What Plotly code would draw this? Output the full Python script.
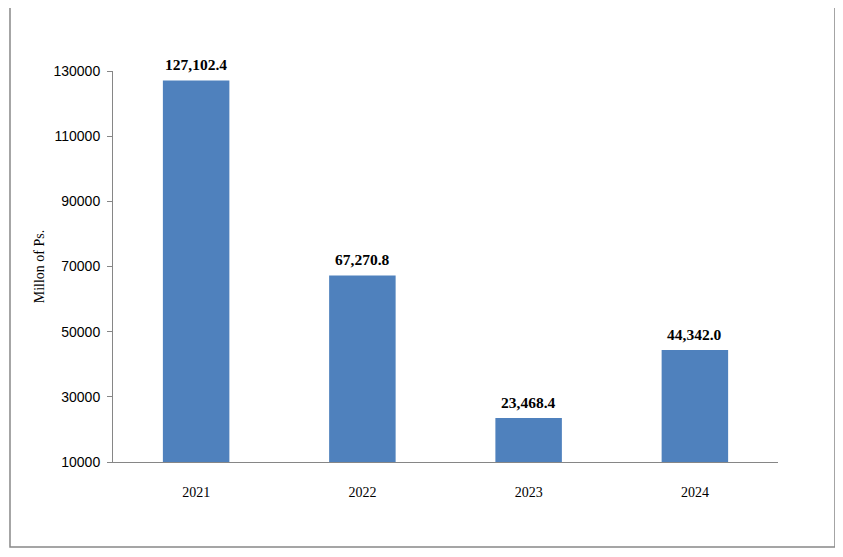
import plotly.graph_objects as go

years = ["2021", "2022", "2023", "2024"]
values = [127102.4, 67270.8, 23468.4, 44342.0]
y_ticks = [10000, 30000, 50000, 70000, 90000, 110000, 130000]

labels = [f"{v:,.1f}" for v in values]

fig = go.Figure(go.Bar(
    x=years, y=values,
    marker=dict(color="#4F81BD", line=dict(width=0)),
    width=0.4,
))

# category axis: annotation x given as category index
for i, (v, lab) in enumerate(zip(values, labels)):
    fig.add_annotation(x=i, y=v, text=lab, showarrow=False,
                       yanchor="bottom", yshift=5,
                       font=dict(family="Liberation Serif", size=15.5, color="black", weight="bold"))

fig.update_layout(
    width=843, height=557,
    margin=dict(l=105, r=73, t=63, b=103),
    plot_bgcolor="white", paper_bgcolor="white",
    showlegend=False,
    xaxis=dict(
        type="category",
        showline=True, linecolor="#868686", linewidth=1,
        ticks="", showgrid=False, ticklabelstandoff=17,
        tickfont=dict(family="Liberation Serif", size=14, color="black"),
    ),
    yaxis=dict(
        range=[10000, 130000], tickvals=y_ticks,
        ticktext=[str(v) for v in y_ticks],
        showline=True, linecolor="#868686", linewidth=1,
        ticks="outside", ticklen=5, tickcolor="#868686",
        ticklabelstandoff=4,
        showgrid=False, zeroline=False,
        tickfont=dict(family="Liberation Sans", size=14, color="black"),
        title=dict(text="Millon of Ps.", standoff=5,
                   font=dict(family="Liberation Serif", size=14, color="black")),
    ),
    shapes=[dict(type="rect", xref="paper", yref="paper",
                 x0=-0.1549, x1=1.0857, y0=-0.2174, y1=1.1688,
                 line=dict(color="#888888", width=1.5), fillcolor="rgba(0,0,0,0)")],
)

fig.write_html("out.html")
